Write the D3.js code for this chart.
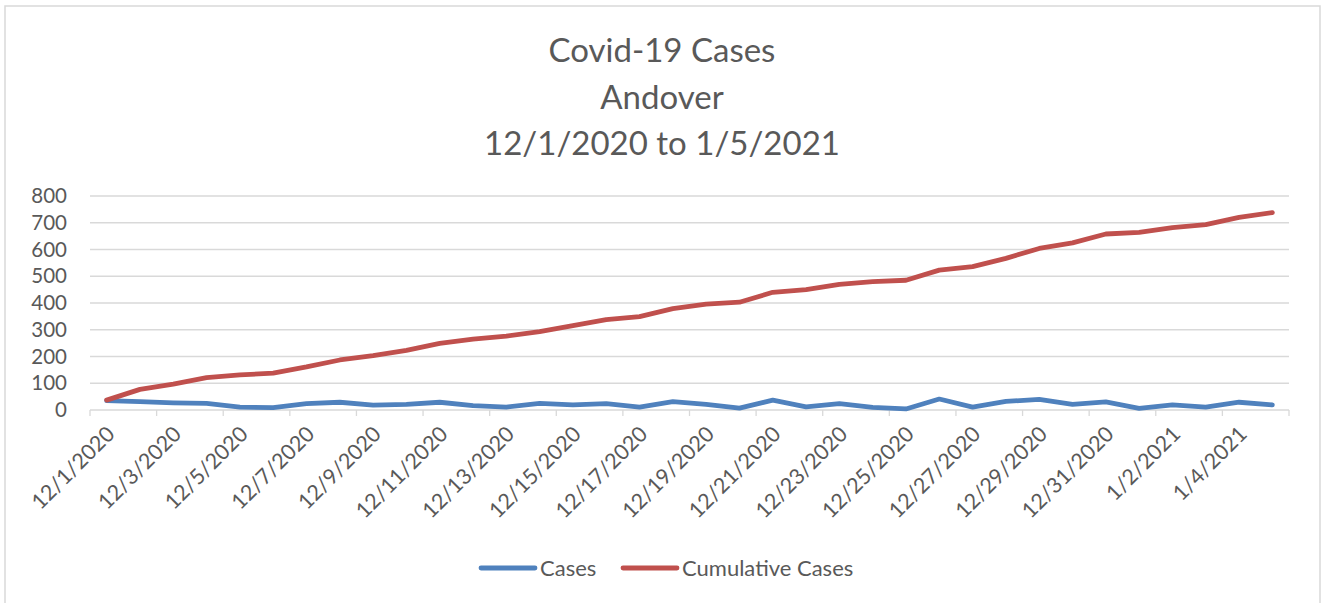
<!DOCTYPE html>
<html>
<head>
<meta charset="utf-8">
<script src="https://cdn.jsdelivr.net/npm/d3@7"></script>
<style>
  body { margin: 0; background: #fff; }
  text { font-family: Lato, "Open Sans", sans-serif; fill: #595959; }
</style>
</head>
<body>
<div id="chart"></div>
<script>
var dates = ["12/1/2020","12/2/2020","12/3/2020","12/4/2020","12/5/2020","12/6/2020","12/7/2020","12/8/2020","12/9/2020",
  "12/10/2020","12/11/2020","12/12/2020","12/13/2020","12/14/2020","12/15/2020","12/16/2020","12/17/2020","12/18/2020",
  "12/19/2020","12/20/2020","12/21/2020","12/22/2020","12/23/2020","12/24/2020","12/25/2020","12/26/2020","12/27/2020",
  "12/28/2020","12/29/2020","12/30/2020","12/31/2020","1/1/2021","1/2/2021","1/3/2021","1/4/2021","1/5/2021"];

var cases = [35,31,27,25,11,9,24,29,18,21,29,16,11,25,19,24,11,31,21,7,37,12,24,10,4,41,11,32,40,21,30,6,19,11,29,19];

var cumulative = [37,77,97,121,131,138,161,187,203,223,249,265,276,293,315,338,349,379,396,403,440,450,470,480,485,523,536,567,604,625,658,664,682,693,720,738];

var yTicks = [0,100,200,300,400,500,600,700,800];
var titleLines = ["Covid-19 Cases", "Andover", "12/1/2020 to 1/5/2021"];
var seriesNames = ["Cases", "Cumulative Cases"];
var colors = ["#4f81bd", "#c0504d"];

var width = 1322, height = 603;
var svg = d3.select("#chart").append("svg")
    .attr("width", width)
    .attr("height", height);

// outer border
svg.append("rect")
    .attr("x", 5).attr("y", 6)
    .attr("width", 1315).attr("height", 610)
    .attr("fill", "none")
    .attr("stroke", "#d9d9d9")
    .attr("stroke-width", 1.5);

// title
svg.selectAll(".title").data(titleLines).enter().append("text")
    .attr("class", "title")
    .attr("x", 662)
    .attr("y", (d, i) => 62 + i * 46.5)
    .attr("text-anchor", "middle")
    .style("font-size", "33px")
    .text(d => d);

var x = d3.scaleBand().domain(dates).range([90, 1289]);
var y = d3.scaleLinear().domain([0, 800]).range([410, 196]);

// gridlines
svg.selectAll(".grid").data(yTicks.slice(1)).enter().append("line")
    .attr("x1", 90).attr("x2", 1289)
    .attr("y1", d => y(d)).attr("y2", d => y(d))
    .attr("stroke", "#d9d9d9")
    .attr("stroke-width", 1.3);

// y labels
svg.selectAll(".ylab").data(yTicks).enter().append("text")
    .attr("x", 67)
    .attr("y", d => y(d))
    .attr("dy", "0.35em")
    .attr("text-anchor", "end")
    .style("font-size", "20.5px")
    .text(d => d);

// x axis line and ticks
svg.append("line")
    .attr("x1", 90).attr("x2", 1289)
    .attr("y1", y(0)).attr("y2", y(0))
    .attr("stroke", "#d9d9d9")
    .attr("stroke-width", 1.3);

var tickDates = dates.filter((d, i) => i % 2 == 0);
svg.selectAll(".tick").data(tickDates.concat(["end"])).enter().append("line")
    .attr("x1", d => d == "end" ? x.range()[1] : x(d))
    .attr("x2", d => d == "end" ? x.range()[1] : x(d))
    .attr("y1", y(0)).attr("y2", y(0) + 6)
    .attr("stroke", "#d9d9d9")
    .attr("stroke-width", 1.3);

// x labels
svg.selectAll(".xlab").data(tickDates).enter().append("text")
    .attr("transform", d => "translate(" + (x(d) + x.bandwidth() / 2 + 4) + "," + 430 + ") rotate(-45)")
    .attr("text-anchor", "end")
    .attr("dy", "0.35em")
    .style("font-size", "21.5px")
    .text(d => d);

var line = d3.line()
    .x((d, i) => x(dates[i]) + x.bandwidth() / 2)
    .y(d => y(d));

[cases, cumulative].forEach((s, k) => {
    svg.append("path")
        .datum(s)
        .attr("d", line)
        .attr("fill", "none")
        .attr("stroke", colors[k])
        .attr("stroke-width", 4.8)
        .attr("stroke-linejoin", "round")
        .attr("stroke-linecap", "round");
});

// legend
var legendX = [481, 623];
seriesNames.forEach((name, k) => {
    svg.append("line")
        .attr("x1", legendX[k]).attr("x2", legendX[k] + 54)
        .attr("y1", 568).attr("y2", 568)
        .attr("stroke", colors[k])
        .attr("stroke-width", 4.8)
        .attr("stroke-linecap", "round");
    svg.append("text")
        .attr("x", legendX[k] + 59)
        .attr("y", 568)
        .attr("dy", "0.35em")
        .style("font-size", "22px")
        .text(name);
});
</script>
</body>
</html>
